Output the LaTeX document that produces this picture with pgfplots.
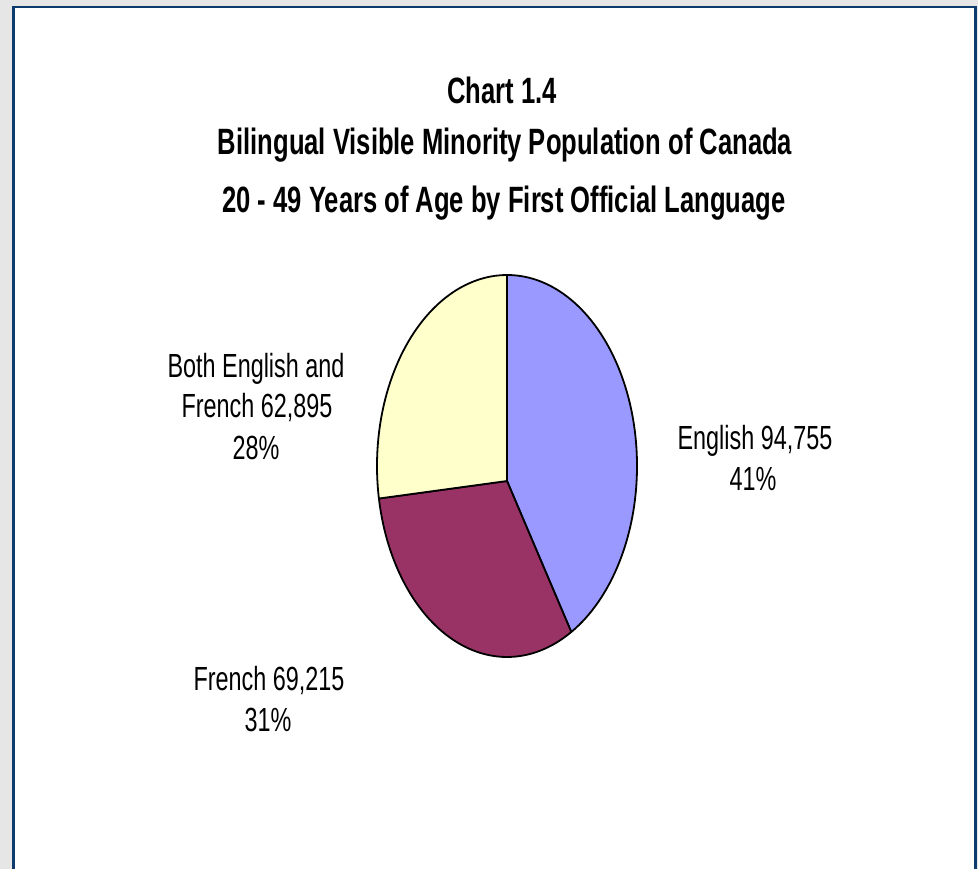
\documentclass[border=0pt]{standalone}
\usepackage{fontspec}
\setmainfont{Liberation Sans}
\usepackage{pgfplots}
\usepackage{pgfplotstable}
\pgfplotsset{compat=1.18}
\usetikzlibrary{calc}

\definecolor{cEn}{HTML}{9999FF}
\definecolor{cFr}{HTML}{993366}
\definecolor{cBo}{HTML}{FFFFCC}
\definecolor{frame}{HTML}{0D3B6E}
\definecolor{backg}{HTML}{E6E6E6}

% first official language, persons aged 20-49
\pgfplotstableread{
label value
English 94755
French 69215
Both 62895
}\piedata

\pgfplotstablegetelem{0}{value}\of\piedata \let\vEn\pgfplotsretval
\pgfplotstablegetelem{1}{value}\of\piedata \let\vFr\pgfplotsretval
\pgfplotstablegetelem{2}{value}\of\piedata \let\vBo\pgfplotsretval
\pgfkeys{/pgf/fpu=true,/pgf/fpu/output format=fixed}
\pgfmathsetmacro\total{\vEn+\vFr+\vBo}
\pgfmathsetmacro\aA{90}
\pgfmathsetmacro\aB{\aA-360*\vEn/\total}
\pgfmathsetmacro\aC{\aB-360*\vFr/\total}
\pgfmathsetmacro\aD{\aC-360*\vBo/\total}
\pgfkeys{/pgf/fpu=false}

\tikzset{
  ttl/.style={font=\bfseries\fontsize{12.8}{15}\selectfont, yscale=1.43, transform shape, anchor=base, inner sep=0pt},
  lbl/.style={font=\fontsize{11.7}{14}\selectfont, yscale=1.43, transform shape, anchor=base, inner sep=0pt},
  wedge/.style={draw=black, line width=0.9pt, line join=round},
}

\begin{document}
\begin{tikzpicture}
\begin{axis}[
    scale only axis,
    width=489pt, height=434.5pt,
    xmin=0, xmax=978, ymin=0, ymax=869,
    y dir=reverse,
    hide axis,
    clip=false,
]
% page background and frame
\fill[backg] (axis cs:0,0) rectangle (axis cs:978,869);
\fill[white] (axis cs:13.5,7) rectangle (axis cs:975.5,869);
\draw[frame, line width=1.3pt, line cap=butt] (axis cs:13.5,869) -- (axis cs:13.5,7) -- (axis cs:975.5,7) -- (axis cs:975.5,869);

% title
\node[ttl] at (axis cs:502,104) {Chart 1.4};
\node[ttl] at (axis cs:505,155) {Bilingual Visible Minority Population of Canada};
\node[ttl] at (axis cs:504,213) {20 - 49 Years of Age by First Official Language};

% wedges (ellipse radii 65pt x 95.5pt)
\filldraw[wedge, fill=cEn]
  (axis cs:507,481) -- ($(axis cs:507,466)+(\aA:65pt and 95.5pt)$)
  arc[start angle=\aA, end angle=\aB, x radius=65pt, y radius=95.5pt] -- cycle;
\filldraw[wedge, fill=cFr]
  (axis cs:507,481) -- ($(axis cs:507,466)+(\aB:65pt and 95.5pt)$)
  arc[start angle=\aB, end angle=\aC, x radius=65pt, y radius=95.5pt] -- cycle;
\filldraw[wedge, fill=cBo]
  (axis cs:507,481) -- ($(axis cs:507,466)+(\aC:65pt and 95.5pt)$)
  arc[start angle=\aC, end angle=\aD, x radius=65pt, y radius=95.5pt] -- cycle;

% labels
\node[lbl] at (axis cs:755,449) {English 94,755};
\node[lbl] at (axis cs:753,490) {41\%};
\node[lbl] at (axis cs:256,378) {Both English and};
\node[lbl] at (axis cs:257,418) {French 62,895};
\node[lbl] at (axis cs:256,459) {28\%};
\node[lbl] at (axis cs:269,690) {French 69,215};
\node[lbl] at (axis cs:268,731) {31\%};
\end{axis}
\end{tikzpicture}
\end{document}
